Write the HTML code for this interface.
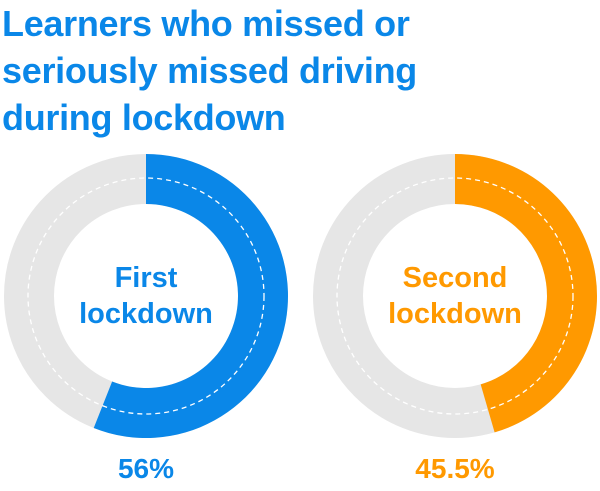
<!DOCTYPE html>
<html><head><meta charset="utf-8"><style>
body{margin:0;width:600px;height:491px;background:#fff;overflow:hidden;font-family:"Liberation Sans",sans-serif}
h1{position:absolute;left:2px;top:0;margin:0;font-size:36px;line-height:47px;font-weight:bold;color:#0a87e8;letter-spacing:-0.3px}
svg{position:absolute;left:0;top:0}
</style></head><body>
<h1>Learners who missed or<br>seriously missed driving<br>during lockdown</h1>
<svg id="c" width="600" height="491"></svg>
<script>
const labels=[["First","lockdown"],["Second","lockdown"]];
const values=[56,45.5];
const valueText=["56%","45.5%"];
const colors=["#0a87e8","#ff9900"];
const ns="http://www.w3.org/2000/svg",svg=document.getElementById("c");
const centersX=[146,455],cy=296,R=142,r=92,rd=118;
function mk(t,a,p){const e=document.createElementNS(ns,t);for(const k in a)e.setAttribute(k,a[k]);(p||svg).appendChild(e);return e;}
function pt(rad,f,cx){const a=2*Math.PI*f-Math.PI/2;return [cx+rad*Math.cos(a),cy+rad*Math.sin(a)];}
values.forEach((v,i)=>{
 const cx=centersX[i],f=v/100;
 const g=mk("g",{});
 
 
 const bg=mk("circle",{cx,cy,r:(R+r)/2,fill:"none",stroke:"#e6e6e6","stroke-width":R-r},g);
 
 
 const [x1,y1]=pt(R,0,cx),[x2,y2]=pt(R,f,cx),[x3,y3]=pt(r,f,cx),[x4,y4]=pt(r,0,cx);
 const lg=f>0.5?1:0;
 const arc=mk("path",{d:`M${x1},${y1}A${R},${R} 0 ${lg} 1 ${x2},${y2}L${x3},${y3}A${r},${r} 0 ${lg} 0 ${x4},${y4}Z`,fill:colors[i]},g);
 
 
 const d=mk("circle",{cx,cy,r:rd,fill:"none",stroke:"#fff","stroke-width":1.3,"stroke-dasharray":"5 4"},g);
 
 
 labels[i].forEach((s,j)=>{
  const t=mk("text",{x:cx,y:cy-9+j*36,"text-anchor":"middle","font-size":29,"font-weight":"bold",fill:colors[i]},g);
  t.textContent=s;
  
  
 });
 const p=mk("text",{x:cx,y:478,"text-anchor":"middle","font-size":28,"font-weight":"bold",fill:colors[i]},g);
 p.textContent=valueText[i];
 
 
});
</script>
</body></html>
